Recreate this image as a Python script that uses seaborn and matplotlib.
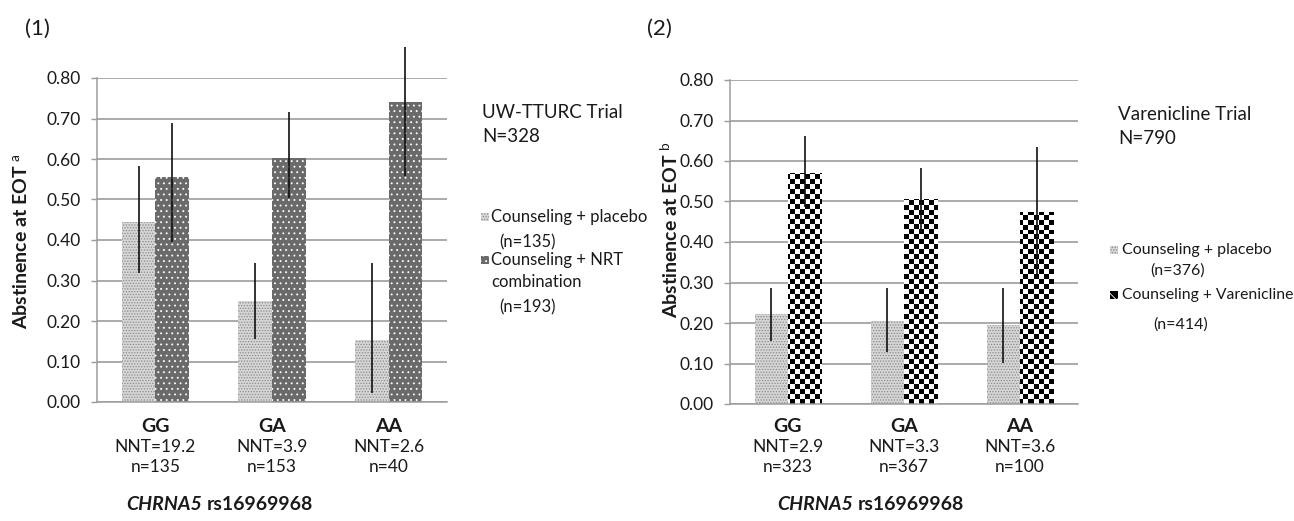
import numpy as np
import pandas as pd
import seaborn as sns
import matplotlib
matplotlib.use('Agg')
import matplotlib.pyplot as plt
import matplotlib.transforms as mtransforms
from matplotlib.patches import Rectangle

# values
genotypes = ['GG', 'GA', 'AA']

nnt_1 = ['NNT=19.2', 'NNT=3.9', 'NNT=2.6']
n_1 = ['n=135', 'n=153', 'n=40']
placebo_1 = [0.445, 0.250, 0.153]
placebo_1_lo = [0.318, 0.155, 0.022]
placebo_1_hi = [0.583, 0.342, 0.343]
nrt_1 = [0.556, 0.602, 0.740]
nrt_1_lo = [0.396, 0.503, 0.558]
nrt_1_hi = [0.690, 0.717, 0.877]

nnt_2 = ['NNT=2.9', 'NNT=3.3', 'NNT=3.6']
n_2 = ['n=323', 'n=367', 'n=100']
placebo_2 = [0.222, 0.206, 0.195]
placebo_2_lo = [0.156, 0.128, 0.102]
placebo_2_hi = [0.286, 0.286, 0.286]
var_2 = [0.571, 0.506, 0.474]
var_2_lo = [0.486, 0.425, 0.320]
var_2_hi = [0.662, 0.582, 0.635]

yticks = [0.0, 0.1, 0.2, 0.3, 0.4, 0.5, 0.6, 0.7, 0.8]

sns.set_style('white')
plt.rcParams['font.family'] = ['Lato', 'DejaVu Sans']
plt.rcParams['mathtext.fontset'] = 'custom'
plt.rcParams['mathtext.rm'] = 'Lato'
plt.rcParams['hatch.linewidth'] = 0.6

W, H = 1294, 521
fig = plt.figure(figsize=(W / 100, H / 100), dpi=100)
TXT = '#1a1a1a'
GRID = '#9c9c9c'


def px(x, y):
    return x / W, 1 - y / H


STYLES = {
    'placebo': dict(facecolor='#d6d6d6', hatch='......', edgecolor='#8a8a8a'),
    'nrt': dict(facecolor='#6a6a6a', hatch='...', edgecolor='white'),
}


def style_bars(container, key):
    st = STYLES[key]
    for p in container:
        p.set_facecolor(st['facecolor'])
        p.set_hatch(st['hatch'])
        p.set_edgecolor(st['edgecolor'])
        p.set_linewidth(0)


def checker_bars(ax, container):
    ncols, nrows = 70, 65
    board = np.add.outer(np.arange(nrows), np.arange(ncols)) % 2
    for p in container:
        p.set_facecolor('none')
        p.set_linewidth(0)
        im = ax.imshow(board, cmap='gray', extent=(-0.5, 2.5, 0, 0.8), aspect='auto',
                       interpolation='nearest', zorder=2)
        im.set_clip_path(p)


def draw_panel(ax, placebo, plo, phi, active, alo, ahi, nnt, nn, active_key):
    df = pd.DataFrame({
        'genotype': genotypes * 2,
        'arm': ['placebo'] * 3 + ['active'] * 3,
        'value': placebo + active,
    })
    sns.barplot(data=df, x='genotype', y='value', hue='arm', order=genotypes,
                hue_order=['placebo', 'active'], width=0.575, errorbar=None,
                palette=['#d6d6d6', '#6a6a6a'], legend=False, ax=ax, zorder=2)
    style_bars(ax.containers[0], 'placebo')
    if active_key == 'checker':
        checker_bars(ax, ax.containers[1])
    else:
        style_bars(ax.containers[1], active_key)

    for cont, lo, hi in [(ax.containers[0], plo, phi), (ax.containers[1], alo, ahi)]:
        xs = [p.get_x() + p.get_width() / 2 for p in cont]
        ax.vlines(xs, lo, hi, color='#111111', lw=1.2, zorder=5, clip_on=False)

    ax.set_xlim(-0.5, 2.5)
    ax.set_ylim(0, 0.8)
    ax.set_yticks(yticks)
    ax.set_yticklabels([f'{v:.2f}' for v in yticks], fontsize=12.5, color=TXT)
    ax.yaxis.grid(True, color=GRID, lw=1.2)
    ax.set_axisbelow(True)
    ax.set_xticks([0, 1, 2])
    ax.set_xticklabels([])
    ax.set_xticks([-0.5, 0.5, 1.5, 2.5], minor=True)
    ax.tick_params(axis='x', which='major', length=0)
    ax.tick_params(axis='x', which='minor', length=4, color=GRID, width=1, direction='out')
    ax.tick_params(axis='y', length=4, color=GRID, width=1, direction='out', pad=8, left=True)
    ax.set_xlabel('')
    ax.set_ylabel('')
    for s in ['top', 'right']:
        ax.spines[s].set_visible(False)
    for s in ['left', 'bottom']:
        ax.spines[s].set_color(GRID)
        ax.spines[s].set_linewidth(1.1)

    # category labels: x from the axis, y at fixed rows under the plot
    tr = mtransforms.blended_transform_factory(ax.transData, fig.transFigure)
    for i in range(3):
        fig.text(i, 1 - 427 / H, genotypes[i], transform=tr, ha='center', va='center',
                 fontsize=14, fontweight='bold', color=TXT)
        fig.text(i, 1 - 447 / H, nnt[i], transform=tr, ha='center', va='center',
                 fontsize=12.5, color=TXT)
        fig.text(i, 1 - 467 / H, nn[i], transform=tr, ha='center', va='center',
                 fontsize=12.5, color=TXT)


def legend_key(x, y, key):
    kw = dict(width=8 / W, height=8 / H, transform=fig.transFigure, lw=0)
    if key == 'checker':
        r = Rectangle(px(x, y + 4), facecolor='black', hatch='xx', edgecolor='white', **kw)
    else:
        st = STYLES[key]
        r = Rectangle(px(x, y + 4), facecolor=st['facecolor'], hatch=st['hatch'],
                      edgecolor=st['edgecolor'], **kw)
    fig.patches.append(r)


def ftext(x, y, s, **kw):
    kw.setdefault('fontsize', 12)
    kw.setdefault('color', TXT)
    kw.setdefault('va', 'center')
    fig.text(*px(x, y), s, **kw)


# panel 1
ax1 = fig.add_axes([97 / W, 1 - 402 / H, 350 / W, 324 / H])
draw_panel(ax1, placebo_1, placebo_1_lo, placebo_1_hi, nrt_1, nrt_1_lo, nrt_1_hi,
           nnt_1, n_1, 'nrt')

# panel 2
ax2 = fig.add_axes([730 / W, 1 - 404 / H, 348 / W, 324 / H])
draw_panel(ax2, placebo_2, placebo_2_lo, placebo_2_hi, var_2, var_2_lo, var_2_hi,
           nnt_2, n_2, 'checker')

ftext(25, 29, '(1)', fontsize=16)
ftext(647, 29, '(2)', fontsize=16)

ftext(22, 241, 'Abstinence at EOT $^{\\mathrm{a}}$', rotation=90, ha='center',
      fontweight='bold', fontsize=14)
ftext(670, 229, 'Abstinence at EOT $^{\\mathrm{b}}$', rotation=90, ha='center',
      fontweight='bold', fontsize=14)

ftext(202, 505, 'CHRNA5', ha='right', fontweight='bold', style='italic', fontsize=14)
ftext(207, 505, 'rs16969968', ha='left', fontweight='bold', fontsize=14)
ftext(853, 505, 'CHRNA5', ha='right', fontweight='bold', style='italic', fontsize=14)
ftext(858, 505, 'rs16969968', ha='left', fontweight='bold', fontsize=14)

ftext(482, 112, 'UW-TTURC Trial', fontsize=13.5)
ftext(482, 137, 'N=328', fontsize=13.5)
legend_key(481, 217, 'placebo')
ftext(491, 217, 'Counseling + placebo')
ftext(499, 242, '(n=135)')
legend_key(481, 260, 'nrt')
ftext(491, 260, 'Counseling + NRT')
ftext(491, 282, 'combination')
ftext(499, 307, '(n=193)')

ftext(1118, 115, 'Varenicline Trial', fontsize=13.5)
ftext(1118, 138, 'N=790', fontsize=13.5)
legend_key(1110, 250, 'placebo')
ftext(1122, 250, 'Counseling + placebo', fontsize=11.5)
ftext(1150, 271, '(n=376)', fontsize=11.5)
legend_key(1110, 295, 'checker')
ftext(1122, 295, 'Counseling + Varenicline', fontsize=11.3)
ftext(1153, 325, '(n=414)', fontsize=11.5)

fig.savefig('out.png', dpi=100, facecolor='white')
